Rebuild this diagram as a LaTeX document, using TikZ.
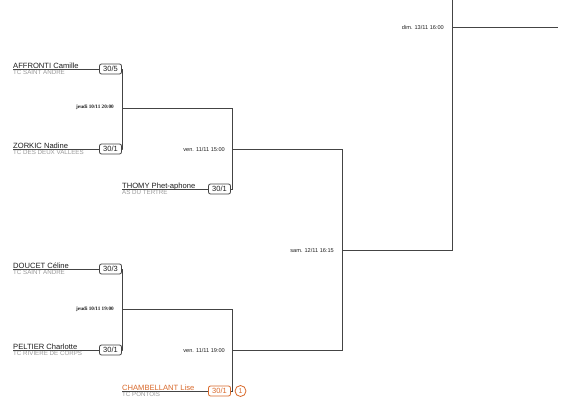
\documentclass[tikz,border=0pt]{standalone}
\usepackage{fontspec}
\setmainfont{Liberation Sans}
\newfontfamily\serifb{Liberation Serif}
\definecolor{linec}{HTML}{444444}
\definecolor{clubc}{HTML}{9A9A9A}
\definecolor{namec}{HTML}{1E1E1E}
\definecolor{orangec}{HTML}{D9692B}
\begin{document}
\begin{tikzpicture}[x=1pt,y=-1pt,
  br/.style={draw=linec,line width=0.9pt},
  score/.style={draw=linec,line width=0.8pt,rounded corners=2pt,fill=white,minimum width=22pt,minimum height=10pt,inner sep=0pt,font=\fontsize{7.5}{8}\selectfont,text=namec},
  pname/.style={anchor=base west,inner sep=0pt,font=\fontsize{7.6}{8}\selectfont,text=namec},
  pclub/.style={anchor=north west,inner sep=0pt,font=\fontsize{6.2}{7}\selectfont,text=clubc},
  dlab/.style={anchor=east,inner sep=0pt,font=\fontsize{5.6}{6}\selectfont,text=namec},
  jlab/.style={anchor=east,inner sep=0pt,font=\serifb\bfseries\fontsize{5.2}{6}\selectfont,text=namec},
  orng/.style={draw=orangec,text=orangec}]
\useasboundingbox[fill=white] (0,0) rectangle (571,400);
% joins
\coordinate (m1) at (122,108);
\coordinate (m2) at (232,149);
\coordinate (m3) at (122,309);
\coordinate (m4) at (232,350);
\coordinate (m5) at (342,250);
\coordinate (m6) at (452,27);
\coordinate (top) at (452,0);
\coordinate (fin) at (558,27);
% players
\coordinate (p1) at (13,69);
\coordinate (p2) at (13,149);
\coordinate (p3) at (122,189);
\coordinate (p4) at (13,269);
\coordinate (p5) at (13,350);
\coordinate (p6) at (122,391);
\node[pname] (n1) at (13,68.3) {AFFRONTI Camille};
\node[pclub] (c1) at (13,70.3) {TC SAINT ANDRE};
\node[pname] (n2) at (13,148.3) {ZORKIC Nadine};
\node[pclub] (c2) at (13,150.3) {TC DES DEUX VALLEES};
\node[pname] (n3) at (122,188.3) {THOMY Phet-aphone};
\node[pclub] (c3) at (122,190.3) {AS DU TERTRE};
\node[pname] (n4) at (13,268.3) {DOUCET Céline};
\node[pclub] (c4) at (13,270.3) {TC SAINT ANDRE};
\node[pname] (n5) at (13,349.3) {PELTIER Charlotte};
\node[pclub] (c5) at (13,351.3) {TC RIVIERE DE CORPS};
\node[pname,text=orangec] (n6) at (122,390.3) {CHAMBELLANT Lise};
\node[pclub] (c6) at (122,392.3) {TC PONTOIS};
% lines
\draw[br] (p1) -- (110,69);
\draw[br] (p2) -- (110,149);
\draw[br] (p3) -- (219,189);
\draw[br] (p4) -- (110,269);
\draw[br] (p5) -- (110,350);
\draw[br] (p6) -- (219,391);
\node[score] (s1) at (110.5,69) {30/5};
\node[score] (s2) at (110.5,149) {30/1};
\node[score] (s3) at (219.5,189) {30/1};
\node[score] (s4) at (110.5,269) {30/3};
\node[score] (s5) at (110.5,350) {30/1};
\node[score,orng] (s6) at (219.5,391) {30/1};
\node[circle,draw=orangec,text=orangec,line width=0.8pt,minimum size=11pt,inner sep=0pt,font=\fontsize{7}{8}\selectfont] (r6) at (240.5,391) {1};
\draw[br] (s1.east) -| (m1);
\draw[br] (s2.east) -| (m1);
\draw[br] (m1) -| (m2);
\draw[br] (s3.east) -| (m2);
\draw[br] (s4.east) -| (m3);
\draw[br] (s5.east) -| (m3);
\draw[br] (m3) -| (m4);
\draw[br] (s6.east) -| (m4);
\draw[br] (m2) -| (m5);
\draw[br] (m4) -| (m5);
\draw[br] (m5) -| (m6);
\draw[br] (top) -- (m6);
\draw[br] (m6) -- (fin);
% dates
\node[jlab] (d1) at (114,107.5) {jeudi 10/11 20:00};
\node[jlab] (d3) at (114,309.5) {jeudi 10/11 19:00};
\node[dlab] (d2) at (225,149) {ven. 11/11 15:00};
\node[dlab] (d4) at (225,350) {ven. 11/11 19:00};
\node[dlab] (d5) at (334,250) {sam. 12/11 16:15};
\node[dlab] (d6) at (444,27) {dim. 13/11 16:00};
\end{tikzpicture}
\end{document}
